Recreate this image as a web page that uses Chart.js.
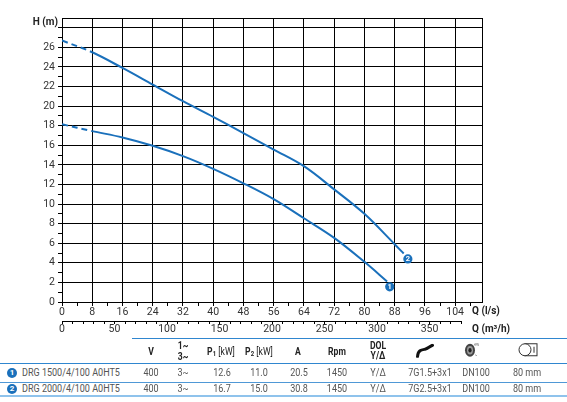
<!DOCTYPE html>
<html><head><meta charset="utf-8">
<script src="https://cdn.jsdelivr.net/npm/chart.js@4.4.1/dist/chart.umd.min.js"></script>
<style>
body{margin:0;background:#fff;}
#wrap{position:relative;width:567px;height:402px;overflow:hidden;font-family:"Roboto",sans-serif;color:#555;}
#cv{position:absolute;left:0;top:0;}
.t{position:absolute;font-size:10.5px;white-space:nowrap;transform:translate(-50%,-50%) scaleX(0.86);line-height:1;}
.h{color:#222;font-weight:bold;font-size:10px;}
.hl{position:absolute;left:0;width:567px;}
.num{position:absolute;width:10px;height:10px;border-radius:50%;background:#1a70bb;color:#fff;font:bold 8px Roboto,sans-serif;text-align:center;line-height:10px;transform:translate(-50%,-50%);}
sub{font-size:7px;vertical-align:-1px;}
.nb{font-weight:normal;}
.ic{transform:translate(-50%,-50%);}
</style></head>
<body>
<div id="wrap">
<canvas id="cv" width="567" height="340" style="width:567px;height:340px"></canvas>
<div id="table"></div>
</div>
<script>
// ---- data ----
const flow1 = [0, 8, 16, 24, 32, 40, 48, 56, 64, 72, 80, 86];
const head1 = [18.15, 17.45, 16.8, 15.95, 14.9, 13.6, 12.12, 10.5, 8.55, 6.55, 4.1, 2.1];
const flow2 = [0, 8, 16, 24, 32, 40, 48, 56, 64, 72, 80, 88, 90.4];
const head2 = [26.7, 25.5, 23.9, 22.2, 20.5, 18.9, 17.25, 15.57, 13.87, 11.5, 9.0, 5.9, 4.95];
const dashedUpTo = 8;
const markerQ = [86.7, 91.5];
const markerH = [1.55, 4.4];
const markerLabels = ['1', '2'];
const yTickLabels = [0, 2, 4, 6, 8, 10, 12, 14, 16, 18, 20, 22, 24, 26];
const xTickLabelsLs = [0, 8, 16, 24, 32, 40, 48, 56, 64, 72, 80, 88, 96, 104];
const xTickLabelsM3h = [0, 50, 100, 150, 200, 250, 300, 350];
const yMax = 29;
const xMaxM3h = 400;
const m3hAxisEnd = 380;

const models = ['DRG 1500/4/100 A0HT5', 'DRG 2000/4/100 A0HT5'];
const voltage = ['400', '400'];
const phase = ['3~', '3~'];
const p1 = ['12.6', '16.7'];
const p2 = ['11.0', '15.0'];
const amps = ['20.5', '30.8'];
const rpm = ['1450', '1450'];
const start = ['Y/Δ', 'Y/Δ'];
const cable = ['7G1.5+3x1', '7G2.5+3x1'];
const outlet = ['DN100', 'DN100'];
const solids = ['80 mm', '80 mm'];

const BLUE = '#1a70bb';
const TR = 'rgba(0,0,0,0)';
const tickFont = {family: 'Roboto', size: 10.5, lineHeight: 1};

const range = (a, b, s) => { const r = []; for (let v = a; v <= b + 1e-9; v += s) r.push(v); return r; };

const overlay = {
  id: 'overlay',
  afterDraw(chart) {
    const ctx = chart.ctx;
    const x2 = chart.scales.x2;
    ctx.save();
    ctx.strokeStyle = '#000'; ctx.lineWidth = 1;
    const yl = Math.round(x2.top) + 0.5;
    ctx.beginPath();
    ctx.moveTo(x2.getPixelForValue(0), yl);
    ctx.lineTo(x2.getPixelForValue(m3hAxisEnd), yl);
    ctx.stroke();
    ctx.fillStyle = '#222';
    ctx.font = 'bold 10px Roboto';
    ctx.textBaseline = 'middle';
    ctx.textAlign = 'right';
    ctx.fillText('H (m)', 58, 22);
    ctx.textAlign = 'left';
    const xs = chart.scales.x;
    ctx.fillText('Q (l/s)', 472, xs.top + 9.5);
    ctx.fillText('Q (m³/h)', 472, x2.top + 8);
    const meta = chart.getDatasetMeta(2);
    ctx.fillStyle = '#fff';
    ctx.font = 'bold 7.5px Roboto';
    ctx.textAlign = 'center';
    meta.data.forEach((pt, i) => ctx.fillText(markerLabels[i], pt.x, pt.y + 0.5));
    ctx.restore();
  }
};

const dashSeg = { borderDash: c => (c.p1.parsed.x <= dashedUpTo ? [6, 4] : undefined) };

new Chart(document.getElementById('cv'), {
  type: 'line',
  data: {
    datasets: [
      { data: flow1.map((q, i) => ({x: q, y: head1[i]})), borderColor: BLUE, borderWidth: 2, pointRadius: 0, tension: 0.35, segment: dashSeg, fill: false },
      { data: flow2.map((q, i) => ({x: q, y: head2[i]})), borderColor: BLUE, borderWidth: 2, pointRadius: 0, tension: 0.35, segment: dashSeg, fill: false },
      { type: 'scatter', data: markerQ.map((q, i) => ({x: q, y: markerH[i]})), pointRadius: 4.6, pointBackgroundColor: BLUE, pointBorderColor: BLUE, pointBorderWidth: 0, showLine: false }
    ]
  },
  options: {
    responsive: false,
    animation: false,
    layout: { padding: { top: 18, right: 85, bottom: 0, left: 0 } },
    plugins: { legend: { display: false }, tooltip: { enabled: false } },
    scales: {
      y: {
        type: 'linear', min: 0, max: yMax,
        afterFit: s => { s.width = 62; },
        afterBuildTicks: s => { s.ticks = range(0, yMax, 1).map(v => ({value: v})); },
        border: { color: '#000', width: 1 },
        grid: {
          color: c => (c.tick && (c.tick.value % 2 === 0 || c.tick.value === yMax)) ? '#000' : TR,
          tickColor: c => (c.tick && c.tick.value === yMax) ? TR : '#000',
          lineWidth: 1, tickLength: 4
        },
        ticks: { autoSkip: false, padding: 3, color: '#333', font: tickFont,
          callback: v => (yTickLabels.includes(v) ? String(v) : '') }
      },
      x: {
        type: 'linear', position: 'bottom', weight: 0, min: 0, max: xMaxM3h / 3.6,
        afterFit: s => { s.height = 19; },
        afterBuildTicks: s => { s.ticks = range(0, 108, 4).concat([xMaxM3h / 3.6]).map(v => ({value: v})); },
        border: { color: '#000', width: 1 },
        grid: {
          color: c => (c.tick && (xTickLabelsLs.includes(c.tick.value) || c.tick.value > 110)) ? '#000' : TR,
          tickColor: c => (c.tick && c.tick.value > 110) ? TR : '#000',
          lineWidth: 1, tickLength: 4
        },
        ticks: { autoSkip: false, maxRotation: 0, padding: 1, color: '#333', font: tickFont,
          callback: v => (xTickLabelsLs.includes(v) ? String(v) : '') }
      },
      x2: {
        type: 'linear', position: 'bottom', weight: 1, min: 0, max: xMaxM3h,
        afterFit: s => { s.height = 19; },
        afterBuildTicks: s => { s.ticks = range(0, m3hAxisEnd, 10).map(v => ({value: v})); },
        border: { display: false },
        grid: { drawOnChartArea: false, tickLength: 3, tickColor: '#000', lineWidth: 1 },
        ticks: { autoSkip: false, maxRotation: 0, padding: 0, color: '#333', font: tickFont,
          callback: v => (xTickLabelsM3h.includes(v) ? String(v) : '') }
      }
    }
  },
  plugins: [overlay]
});

// ---- table ----
const T = document.getElementById('table');
function add(html, x, y, cls) {
  const d = document.createElement('div');
  d.className = cls === 'ic' ? 't ic' : 't ' + (cls || '');
  d.style.left = x + 'px'; d.style.top = y + 'px';
  d.innerHTML = html;
  T.appendChild(d);
  return d;
}
function line(y, x0, h, color) {
  const d = document.createElement('div');
  d.className = 'hl';
  d.style.top = y + 'px'; d.style.left = x0 + 'px'; d.style.width = (567 - x0) + 'px';
  d.style.height = h + 'px'; d.style.background = color;
  T.appendChild(d);
}
line(337.5, 132, 1, '#2f86cf');
line(363, 0, 1, '#2f86cf');
line(381.5, 0, 1, '#4f98d6');
line(395, 0, 2, '#8fc3ec');

add('V', 150.7, 352, 'h');
add('1~', 183, 345.5, 'h');
add('3~', 183, 357, 'h');
add('P<sub>1</sub> <span class="nb">[kW]</span>', 221, 352, 'h');
add('P<sub>2</sub> <span class="nb">[kW]</span>', 258.5, 352, 'h');
add('A', 297.5, 352, 'h');
add('Rpm', 337, 352, 'h');
add('DOL', 377.5, 346, 'h');
add('Y/Δ', 377.5, 356, 'h');
add('<svg width="18" height="14" viewBox="0 0 18 14"><path d="M1.5 13 C2 6, 6 6, 9 5.5 C12 5, 13 3, 16.5 1.5" stroke="#111" stroke-width="3" fill="none" stroke-linecap="round"/></svg>', 425, 352, 'ic');
add('<svg width="18" height="16" viewBox="0 0 18 16"><ellipse cx="7" cy="8.5" rx="5" ry="6.5" fill="#444"/><ellipse cx="7" cy="8.5" rx="3" ry="4.2" fill="#999"/><ellipse cx="7" cy="8.5" rx="1.6" ry="2.2" fill="#222"/><path d="M11 3 L14 2 M12 13 L14 14" stroke="#888" stroke-width="0.7"/><text x="11.5" y="4.5" font-size="3.5" fill="#888" font-family="Roboto">DN</text></svg>', 471.5, 351, 'ic');
add('<svg width="22" height="16" viewBox="0 0 22 16"><rect x="8" y="2" width="12" height="12" fill="none" stroke="#333" stroke-width="1"/><circle cx="8" cy="8" r="6" fill="#fff" stroke="#333" stroke-width="1"/><line x1="17" y1="5" x2="17" y2="11" stroke="#333" stroke-width="1"/></svg>', 528, 351, 'ic');

const rowY = [373, 388.5];
for (let i = 0; i < models.length; i++) {
  const y = rowY[i];
  const n = document.createElement('div');
  n.className = 'num'; n.style.left = '12px'; n.style.top = y + 'px';
  n.textContent = markerLabels[i];
  T.appendChild(n);
  const m = add(models[i], 22, y);
  m.style.transform = 'translate(0,-50%) scaleX(0.86)';
  m.style.transformOrigin = 'left center';
  add(voltage[i], 150.5, y);
  add(phase[i], 183, y);
  add(p1[i], 222, y);
  add(p2[i], 259, y);
  add(amps[i], 299, y);
  add(rpm[i], 337, y);
  add(start[i], 377.5, y);
  add(cable[i], 430, y);
  add(outlet[i], 476, y);
  add(solids[i], 527, y);
}
</script>
</body></html>
